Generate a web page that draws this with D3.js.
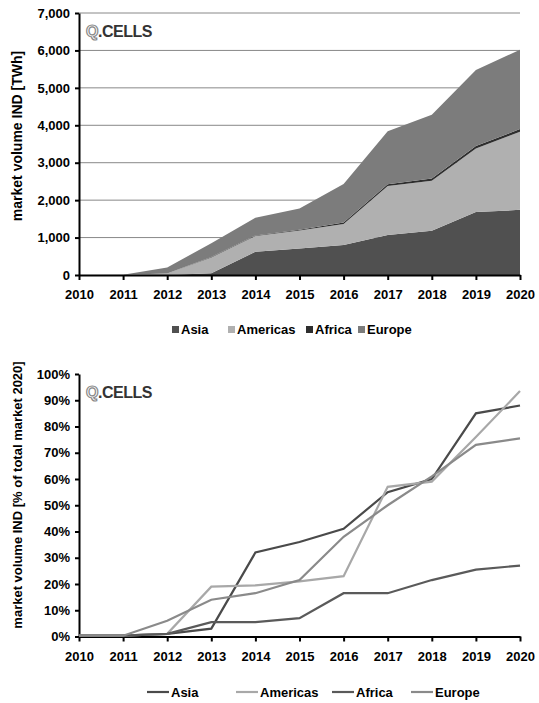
<!DOCTYPE html>
<meta charset="utf-8">
<style>
body { margin: 0; background: #fff; }
text { font-family: "Liberation Sans", Arial, sans-serif; font-weight: bold; fill: #000; }
.grid line { stroke: #888; stroke-width: 1px; }
.axis path, .axis line { stroke: #000; stroke-width: 2px; }
.axis text { font-size: 13px; }
</style>
<svg width="539" height="703"></svg>
<script src="https://d3js.org/d3.v7.min.js"></script>
<script>
// years on the x axis
var years = [2010, 2011, 2012, 2013, 2014, 2015, 2016, 2017, 2018, 2019, 2020];

// top chart: market volume in TWh, stacked
var asia     = [0, 0, 0, 50, 620, 710, 800, 1070, 1180, 1680, 1740];
var americas = [0, 10, 40, 420, 420, 480, 560, 1310, 1340, 1700, 2090];
var africa   = [0, 0, 2, 14, 14, 18, 43, 43, 56, 66, 70];
var europe   = [0, 0, 158, 366, 475, 570, 1027, 1417, 1704, 2034, 2120];

// bottom chart: % of total market 2020
var asiaPct     = [0.3, 0.3, 1, 3, 32, 36, 41, 55, 60, 85, 88];
var americasPct = [0.3, 0.3, 1, 19, 19.5, 21, 23, 57, 59, 76, 93.5];
var africaPct   = [0.3, 0.3, 1, 5.5, 5.5, 7, 16.5, 16.5, 21.5, 25.5, 27];
var europePct   = [0.3, 0.3, 6, 14, 16.5, 21.5, 38, 50, 61, 73, 75.5];

var regions = ["Asia", "Americas", "Africa", "Europe"];
var areaColors = ["#505050", "#b0b0b0", "#2e2e2e", "#7c7c7c"];
var lineColors = ["#4a4a4a", "#a8a8a8", "#5a5a5a", "#8a8a8a"];

var svg = d3.select("svg");

var x = d3.scaleLinear().domain([2010, 2020]).range([79, 520]);

// ---------- top chart ----------
var y1 = d3.scaleLinear().domain([0, 7000]).range([275, 13]);

var table = years.map(function(yr, i) {
  return { year: yr, Asia: asia[i], Americas: americas[i], Africa: africa[i], Europe: europe[i] };
});
var stack = d3.stack().keys(regions)(table);

svg.append("g").attr("class", "grid")
  .selectAll("line").data(d3.range(1000, 7001, 1000))
  .enter().append("line")
    .attr("x1", 79).attr("x2", 520)
    .attr("y1", function(d) { return y1(d); })
    .attr("y2", function(d) { return y1(d); });

var area = d3.area()
  .x(function(d) { return x(d.data.year); })
  .y0(function(d) { return y1(d[0]); })
  .y1(function(d) { return y1(d[1]); });

svg.append("g").selectAll("path").data(stack)
  .enter().append("path")
    .attr("d", area)
    .attr("fill", function(d, i) { return areaColors[i]; });

svg.append("g").attr("class", "axis")
  .attr("transform", "translate(0,275)")
  .call(d3.axisBottom(x).tickValues(years).tickFormat(d3.format("d")).tickSize(5).tickPadding(10).tickSizeOuter(0));

svg.append("g").attr("class", "axis")
  .attr("transform", "translate(79,0)")
  .call(d3.axisLeft(y1).tickValues(d3.range(0, 7001, 1000)).tickFormat(d3.format(",")).tickSize(4).tickPadding(5).tickSizeOuter(0));

svg.append("text")
  .attr("transform", "translate(22,136) rotate(-90)")
  .attr("text-anchor", "middle")
  .style("font-size", "14px")
  .text("market volume IND [TWh]");

// legend top
var leg1X = [172, 228, 306, 358];
var leg1 = svg.append("g").selectAll("g").data(regions).enter().append("g")
  .attr("transform", function(d, i) { return "translate(" + leg1X[i] + ",325)"; });
leg1.append("rect").attr("width", 7).attr("height", 7).attr("y", 1)
  .attr("fill", function(d, i) { return areaColors[i]; });
leg1.append("text").attr("x", 9).attr("y", 9).style("font-size", "13px")
  .text(function(d) { return d; });

// ---------- bottom chart ----------
var y2 = d3.scaleLinear().domain([0, 100]).range([636.5, 374]);

var pcts = [asiaPct, americasPct, africaPct, europePct];
var line = d3.line()
  .x(function(d, i) { return x(years[i]); })
  .y(function(d) { return y2(d); });

svg.append("g").attr("class", "axis")
  .attr("transform", "translate(0,636.5)")
  .call(d3.axisBottom(x).tickValues(years).tickFormat(d3.format("d")).tickSize(5).tickPadding(10).tickSizeOuter(0));

svg.append("g").attr("class", "axis")
  .attr("transform", "translate(79,0)")
  .call(d3.axisLeft(y2).tickValues(d3.range(0, 101, 10)).tickFormat(function(d) { return d + "%"; }).tickSize(4).tickPadding(5).tickSizeOuter(0));

svg.append("g").selectAll("path").data(pcts)
  .enter().append("path")
    .attr("d", line)
    .attr("fill", "none")
    .attr("stroke-width", 2.2)
    .attr("stroke", function(d, i) { return lineColors[i]; });

svg.append("text")
  .attr("transform", "translate(22,495) rotate(-90)")
  .attr("text-anchor", "middle")
  .style("font-size", "13px")
  .text("market volume IND [% of total market 2020]");

// legend bottom
var leg2X = [147, 236, 332, 411];
var leg2 = svg.append("g").selectAll("g").data(regions).enter().append("g")
  .attr("transform", function(d, i) { return "translate(" + leg2X[i] + ",692)"; });
leg2.append("line").attr("x1", 0).attr("x2", 22)
  .attr("stroke-width", 2.2)
  .attr("stroke", function(d, i) { return lineColors[i]; });
leg2.append("text").attr("x", 24).attr("y", 4.5).style("font-size", "13px")
  .text(function(d) { return d; });

// Q.CELLS logos
[[86, 37], [86, 398]].forEach(function(p) {
  var g = svg.append("text").attr("x", p[0]).attr("y", p[1])
    .style("font-size", "16px").style("letter-spacing", "-0.5px");
  g.append("tspan").text("Q").style("fill", "#fff").style("stroke", "#888").style("stroke-width", "1.2px");
  g.append("tspan").text(".CELLS").style("fill", "#333");
});
</script>
